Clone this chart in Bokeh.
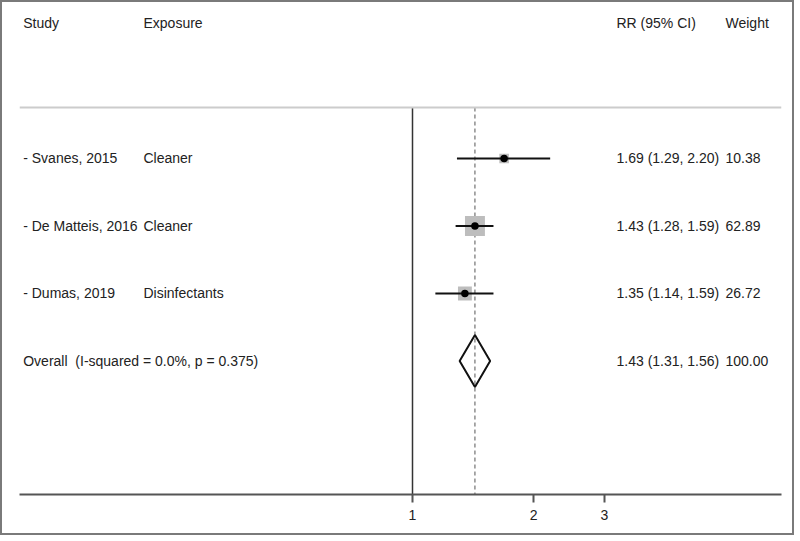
import math
from bokeh.plotting import figure
from bokeh.models import Range1d, Span, FixedTicker, ColumnDataSource
from bokeh.core.properties import value
from bokeh.embed import file_html
from bokeh.resources import INLINE

# ---------------- data ----------------
studies = ["- Svanes, 2015", "- De Matteis, 2016", "- Dumas, 2019"]
exposures = ["Cleaner", "Cleaner", "Disinfectants"]
rr = [1.69, 1.43, 1.35]
lo = [1.29, 1.28, 1.14]
hi = [2.20, 1.59, 1.59]
weights = [10.38, 62.89, 26.72]
rr_text = ["1.69 (1.29, 2.20)", "1.43 (1.28, 1.59)", "1.35 (1.14, 1.59)"]
weight_text = ["10.38", "62.89", "26.72"]

overall_label = "Overall\u00a0 (I-squared = 0.0%, p = 0.375)"
overall_rr = 1.43
overall_lo = 1.31
overall_hi = 1.56
overall_text = "1.43 (1.31, 1.56)"
overall_weight = "100.00"

headers = ["Study", "Exposure", "RR (95% CI)", "Weight"]
tick_values = [1, 2, 3]
tick_labels = ["1", "2", "3"]

# ---------------- layout ----------------
OFF = 2                      # page offset of canvas (border width)
W, H = 794, 535
ML, MR, MT, MB = 17, 15, 0, 43
frame_w = W - ML - MR
PX_PER_LN = 174.6
X_ONE_PX = 412 - OFF - ML    # px of RR=1 from frame left
x_lo = math.exp(-X_ONE_PX / PX_PER_LN)
x_hi = math.exp((frame_w - X_ONE_PX) / PX_PER_LN)

def px_to_x(px_page):
    fx = px_page - OFF - ML
    return math.exp(math.log(x_lo) + fx / frame_w * (math.log(x_hi) - math.log(x_lo)))

y_top, y_bottom = -1.311, 5.978
header_row = -1
header_line_row = 0.245
rows = [1, 2, 3]
overall_row = 4
diamond_half = 0.385

FONT = value("Liberation Sans")
FS = "14px"
TXT = "#222222"

p = figure(width=W, height=H, x_axis_type="log",
           x_range=Range1d(x_lo, x_hi), y_range=Range1d(y_bottom, y_top),
           output_backend="svg", toolbar_location=None,
           min_border_left=ML, min_border_right=MR,
           min_border_top=MT, min_border_bottom=MB)
p.styles = {"border": "2px solid #7a7a7a"}
p.outline_line_color = None
p.xgrid.visible = False
p.ygrid.visible = False
p.yaxis.visible = False

# header line
p.add_layout(Span(location=header_line_row, dimension="width",
                  line_color="#cccccc", line_width=2))

# reference line at 1 and dashed overall line
p.segment(x0=[1], y0=[header_line_row], x1=[1], y1=[y_bottom],
          line_color="#333333", line_width=1.5)
p.segment(x0=[overall_rr], y0=[header_line_row], x1=[overall_rr], y1=[y_bottom],
          line_color="#555555", line_width=1, line_dash="4 3")

# study markers
src = ColumnDataSource(dict(y=rows, rr=rr, lo=lo, hi=hi,
                            size=[2.2 * math.sqrt(w) + 2.5 for w in weights]))
p.scatter(x="rr", y="y", size="size", marker="square", source=src,
          fill_color="#bdbdbd", line_color=None)
p.segment(x0="lo", y0="y", x1="hi", y1="y", source=src,
          line_color="#111111", line_width=2)
p.scatter(x="rr", y="y", size=7.5, marker="circle", source=src,
          fill_color="#000000", line_color=None)

# overall diamond
p.patch(x=[overall_lo, overall_rr, overall_hi, overall_rr],
        y=[overall_row, overall_row - diamond_half, overall_row, overall_row + diamond_half],
        fill_alpha=0, line_color="#111111", line_width=2)

# text columns
col_px = [22.7, 143, 616, 725]
col_x = [px_to_x(c) for c in col_px]

def add_text(xs, ys, texts):
    p.text(x=xs, y=ys, text=texts, text_font=FONT, text_font_size=FS,
           text_color=TXT, text_baseline="middle", text_align="left")

add_text(col_x, [header_row] * 4, headers)
add_text([col_x[0]] * 3, rows, studies)
add_text([col_x[1]] * 3, rows, exposures)
add_text([col_x[2]] * 3, rows, rr_text)
add_text([col_x[3]] * 3, rows, weight_text)
add_text([col_x[0], col_x[2], col_x[3]], [overall_row] * 3,
         [overall_label, overall_text, overall_weight])

# axis
ax = p.xaxis[0]
ax.ticker = FixedTicker(ticks=tick_values, minor_ticks=[])
ax.major_label_overrides = {float(v): l for v, l in zip(tick_values, tick_labels)}
ax.axis_line_color = "#555555"
ax.axis_line_width = 2
ax.major_tick_line_color = "#555555"
ax.major_tick_line_width = 2
ax.major_tick_out = 8
ax.major_tick_in = 0
ax.minor_tick_line_color = None
ax.major_label_text_font = "Liberation Sans"
ax.major_label_text_font_size = "14px"
ax.major_label_text_color = TXT
ax.major_label_standoff = 7

open("out.html", "w").write(file_html(p, INLINE))
